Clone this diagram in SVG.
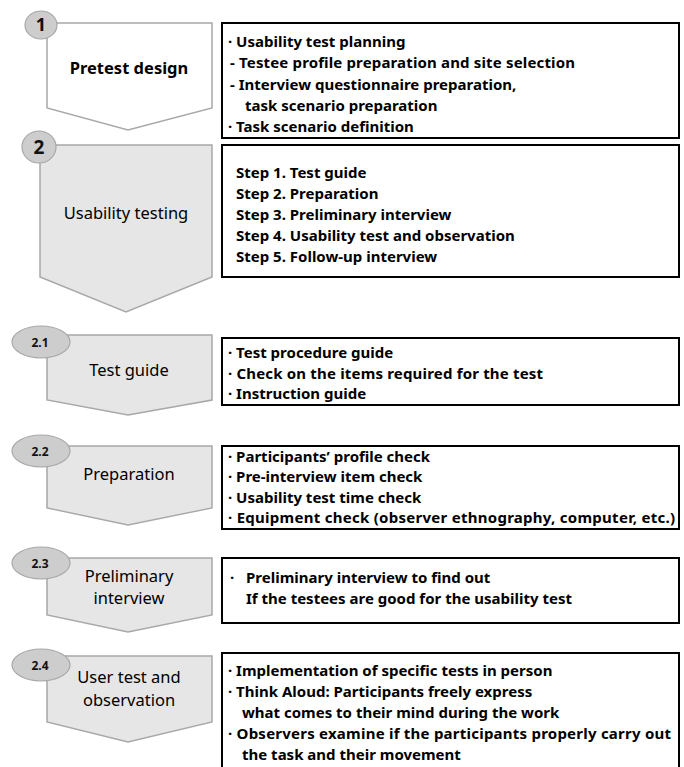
<svg xmlns="http://www.w3.org/2000/svg" width="684" height="767" viewBox="0 0 684 767">
<style>
.shape{stroke:#a8a8a8;stroke-width:1.5;stroke-linejoin:miter}
.white{fill:#ffffff}
.grey{fill:#e6e6e6}
.badge{fill:#cdcdcd;stroke:#a8a8a8;stroke-width:1.2}
.box{fill:#ffffff;stroke:#000000;stroke-width:2}
.lbl{font-family:"Noto Sans","Liberation Sans",sans-serif;font-size:16.5px;fill:#000;text-anchor:middle}
.num{font-family:"Noto Sans","Liberation Sans",sans-serif;font-weight:bold;fill:#111;text-anchor:middle}
.txt{font-family:"Noto Sans","Liberation Sans",sans-serif;font-weight:bold;font-size:15px;fill:#000}
</style>
<rect width="684" height="767" fill="#ffffff"/>
<g id="connectors"></g>

<g id="step1">
<polygon class="shape white" points="47,23 212,23 212,108 128,130 47,108"/>
<ellipse class="badge" cx="41" cy="25" rx="16" ry="14"/>
<text class="num" x="41" y="31" font-size="18">1</text>
<text class="lbl" x="129" y="74" font-weight="bold">Pretest design</text>
</g>
<g id="box1">
<rect class="box" x="222" y="23" width="457" height="115"/>
<text class="txt" x="228" y="47">· Usability test planning</text>
<text class="txt" x="230" y="68" textLength="345" lengthAdjust="spacing">- Testee profile preparation and site selection</text>
<text class="txt" x="230" y="90">- Interview questionnaire preparation,</text>
<text class="txt" x="245" y="111">task scenario preparation</text>
<text class="txt" x="228" y="132">· Task scenario definition</text>
</g>

<g id="step2">
<polygon class="shape grey" points="40,145 212,145 212,277 126,312 40,277"/>
<ellipse class="badge" cx="39" cy="147" rx="17" ry="16"/>
<text class="num" x="39" y="154" font-size="19">2</text>
<text class="lbl" x="126" y="219">Usability testing</text>
</g>
<g id="box2">
<rect class="box" x="222" y="145" width="457" height="132"/>
<text class="txt" x="236" y="178">Step 1. Test guide</text>
<text class="txt" x="236" y="199">Step 2. Preparation</text>
<text class="txt" x="236" y="220">Step 3. Preliminary interview</text>
<text class="txt" x="236" y="241">Step 4. Usability test and observation</text>
<text class="txt" x="236" y="262">Step 5. Follow-up interview</text>
</g>

<g id="step2_1">
<polygon class="shape grey" points="47,335 212,335 212,400 128,415 47,400"/>
<ellipse class="badge" cx="41" cy="342" rx="29" ry="16"/>
<text class="num" x="40" y="347" font-size="12">2.1</text>
<text class="lbl" x="129" y="376">Test guide</text>
</g>
<g id="box2_1">
<rect class="box" x="222" y="338" width="457" height="67"/>
<text class="txt" x="228" y="358">· Test procedure guide</text>
<text class="txt" x="228" y="379" textLength="315" lengthAdjust="spacing">· Check on the items required for the test</text>
<text class="txt" x="228" y="399">· Instruction guide</text>
</g>

<g id="step2_2">
<polygon class="shape grey" points="47,446 212,446 212,508 128,525 47,508"/>
<ellipse class="badge" cx="41" cy="451" rx="29" ry="16"/>
<text class="num" x="40" y="456" font-size="12">2.2</text>
<text class="lbl" x="129" y="480">Preparation</text>
</g>
<g id="box2_2">
<rect class="box" x="222" y="446" width="457" height="83"/>
<text class="txt" x="228" y="462">· Participants’ profile check</text>
<text class="txt" x="228" y="482">· Pre-interview item check</text>
<text class="txt" x="228" y="503">· Usability test time check</text>
<text class="txt" x="228" y="523" textLength="447" lengthAdjust="spacing">· Equipment check (observer ethnography, computer, etc.)</text>
</g>

<g id="step2_3">
<polygon class="shape grey" points="47,558 212,558 212,615 128,632 47,615"/>
<ellipse class="badge" cx="41" cy="563" rx="29" ry="16"/>
<text class="num" x="40" y="568" font-size="12">2.3</text>
<text class="lbl" x="129" y="582">Preliminary</text>
<text class="lbl" x="129" y="604">interview</text>
</g>
<g id="box2_3">
<rect class="box" x="222" y="558" width="457" height="65"/>
<text class="txt" x="230" y="583">·</text>
<text class="txt" x="246" y="583">Preliminary interview to find out</text>
<text class="txt" x="246" y="604">If the testees are good for the usability test</text>
</g>

<g id="step2_4">
<polygon class="shape grey" points="47,656 212,656 212,722 128,742 47,722"/>
<ellipse class="badge" cx="41" cy="665" rx="29" ry="16"/>
<text class="num" x="40" y="670" font-size="12">2.4</text>
<text class="lbl" x="129" y="683">User test and</text>
<text class="lbl" x="129" y="706">observation</text>
</g>
<g id="box2_4">
<rect class="box" x="222" y="653" width="457" height="130"/>
<text class="txt" x="228" y="676">· Implementation of specific tests in person</text>
<text class="txt" x="228" y="697">· Think Aloud: Participants freely express</text>
<text class="txt" x="242" y="718">what comes to their mind during the work</text>
<text class="txt" x="228" y="739" textLength="443" lengthAdjust="spacing">· Observers examine if the participants properly carry out</text>
<text class="txt" x="242" y="760">the task and their movement</text>
</g>
</svg>
